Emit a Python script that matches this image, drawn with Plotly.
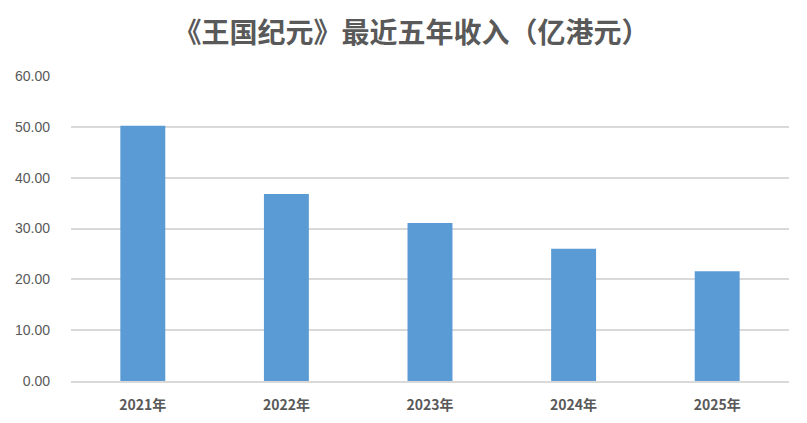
import plotly.graph_objects as go

years = ["2021年", "2022年", "2023年", "2024年", "2025年"]
revenue = [50.2, 36.8, 31.1, 26.0, 21.6]
y_ticks = [0, 10, 20, 30, 40, 50, 60]

fig = go.Figure(data=[
    go.Bar(
        x=years,
        y=revenue,
        marker=dict(color="#5b9bd5", line=dict(width=0)),
        width=0.313,
    )
])

fig.update_layout(
    width=807,
    height=423,
    margin=dict(l=63, r=26, t=68, b=50),
    paper_bgcolor="white",
    plot_bgcolor="white",
    showlegend=False,
    title=dict(
        text="<b>《王国纪元》最近五年收入（亿港元）</b>",
        x=0.5,
        xanchor="center",
        y=0.941,
        yanchor="middle",
        font=dict(family="Noto Sans CJK SC", size=28, color="#595959"),
    ),
    font=dict(family="Liberation Sans", color="#595959"),
)

fig.update_yaxes(
    range=[0, 60],
    tickvals=y_ticks,
    tickformat=".2f",
    showgrid=True,
    gridcolor="#d9d9d9",
    gridwidth=1.5,
    zeroline=False,
    showline=False,
    ticks="",
    automargin=False,
    ticklabelstandoff=20,
    tickfont=dict(family="Liberation Sans", size=14, color="#595959"),
)

fig.update_xaxes(
    showline=True,
    linecolor="#d9d9d9",
    linewidth=1.5,
    ticks="",
    automargin=False,
    ticklabelstandoff=10,
    tickfont=dict(family="Noto Sans CJK SC", size=14, color="#595959", weight="bold"),
)

fig.write_html("out.html")
